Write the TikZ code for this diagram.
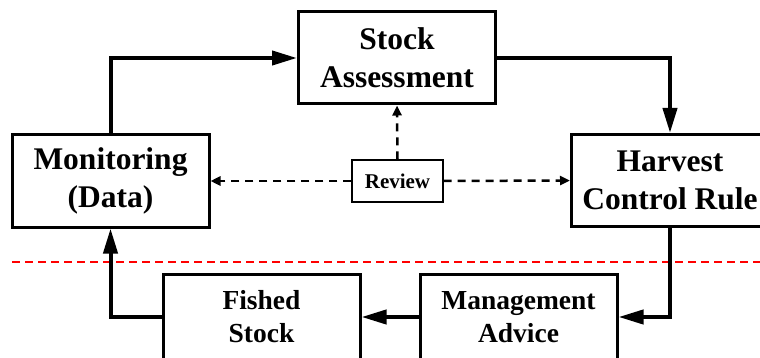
\documentclass[tikz,border=0pt]{standalone}
\usepackage{fontspec}
\setmainfont{Liberation Serif}
\usetikzlibrary{arrows.meta}
\begin{document}
\begin{tikzpicture}[x=1pt,y=-1pt,
  bigbox/.style={draw,line width=3pt,minimum width=197pt,minimum height=92pt,inner sep=0pt,
    align=center,font=\fontsize{31.5}{38}\selectfont\bfseries},
  lowbox/.style={draw,line width=3pt,minimum width=197pt,minimum height=86pt,inner sep=0pt,
    align=center,font=\fontsize{27.5}{33}\selectfont\bfseries},
  revbox/.style={draw,line width=1.2pt,minimum width=91pt,minimum height=42pt,inner sep=0pt,
    font=\fontsize{21}{25}\selectfont\bfseries},
  flow/.style={line width=4pt,-{Triangle[length=25pt,width=14pt]}},
  feedback/.style={line width=2.5pt,dash pattern=on 8pt off 6pt,-{Triangle[length=10pt,width=9pt]}},
  divider/.style={red,line width=1.5pt,dash pattern=on 8pt off 5pt}]
  \useasboundingbox (0,0) rectangle (760,358);
  \clip (0,0) rectangle (760,358);

  % boxes of the management cycle
  \node[bigbox] (sa)  at (397,58)    {Stock\\Assessment};
  \node[bigbox] (mon) at (110.5,181) {Monitoring\\(Data)};
  \node[bigbox] (hcr) at (670,180.5) {Harvest\\Control Rule};
  \node[lowbox] (fs)  at (261.5,317) {Fished\\Stock};
  \node[lowbox] (ma)  at (518.5,317) {Management\\Advice};
  \node[revbox] (rev) at (397.5,181) {Review};

  % boundary between assessment and the fishery
  \coordinate (dl) at (12,262);
  \coordinate (dr) at (760,262);
  \draw[divider] (dl) -- (dr);

  % main cycle
  \draw[flow] (mon.north) |- (sa.west);
  \draw[flow] (sa.east) -| (hcr.north);
  \draw[flow] (hcr.south) |- (ma.east);
  \draw[flow] (ma.west) -- (fs.east);
  \draw[flow] (fs.west) -| (mon.south);

  % review links
  \draw[feedback] (rev.north) -- (sa.south);
  \draw[feedback] (rev.west) -- (mon.east);
  \draw[feedback] (rev.east) -- (hcr.west);
\end{tikzpicture}
\end{document}
